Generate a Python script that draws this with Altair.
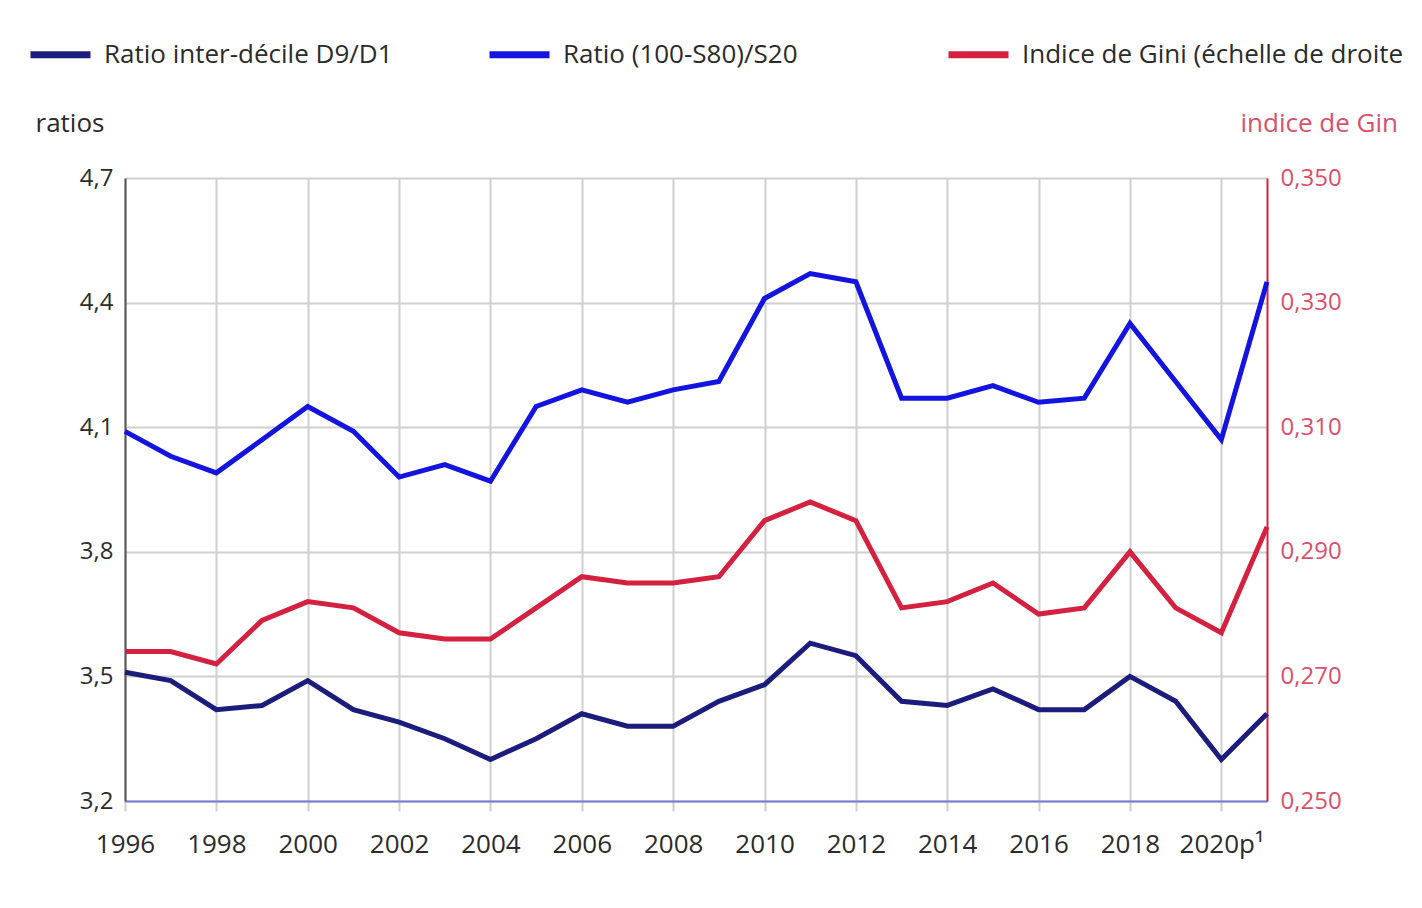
import altair as alt
import pandas as pd

years = list(range(1996, 2022))
series = [
    "Ratio inter-décile D9/D1",
    "Ratio (100-S80)/S20",
    "Indice de Gini (échelle de droite",
]
d9_d1 = [3.51, 3.49, 3.42, 3.43, 3.49, 3.42, 3.39, 3.35, 3.30, 3.35, 3.41, 3.38, 3.38,
         3.44, 3.48, 3.58, 3.55, 3.44, 3.43, 3.47, 3.42, 3.42, 3.50, 3.44, 3.30, 3.41]
s80_s20 = [4.09, 4.03, 3.99, 4.07, 4.15, 4.09, 3.98, 4.01, 3.97, 4.15, 4.19, 4.16, 4.19,
           4.21, 4.41, 4.47, 4.45, 4.17, 4.17, 4.20, 4.16, 4.17, 4.35, 4.21, 4.07, 4.45]
gini = [0.274, 0.274, 0.272, 0.279, 0.282, 0.281, 0.277, 0.276, 0.276, 0.281, 0.286, 0.285, 0.285,
        0.286, 0.295, 0.298, 0.295, 0.281, 0.282, 0.285, 0.280, 0.281, 0.290, 0.281, 0.277, 0.294]
ratio_ticks = [3.2, 3.5, 3.8, 4.1, 4.4, 4.7]
gini_ticks = [0.25, 0.27, 0.29, 0.31, 0.33, 0.35]
year_ticks = list(range(1996, 2021, 2))
colors = ["#1c1c7c", "#1414e0", "#d3213f"]
left_title = "ratios"
right_title = "indice de Gin"

rows = []
for name, vals in zip(series, [d9_d1, s80_s20, gini]):
    for yr, v in zip(years, vals):
        rows.append({"annee": yr, "serie": name, "valeur": v})
df = pd.DataFrame(rows)

FONT = "Open Sans"
TXT = "#2b2b2b"
GRID = "#cfcfcf"
RED_LABEL = "#d9506c"

color = alt.Color(
    "serie:N",
    scale=alt.Scale(domain=series, range=colors),
    sort=series,
    legend=alt.Legend(
        title=None,
        orient="none",
        legendX=-98,
        legendY=-157,
        direction="horizontal",
        columns=3,
        gridAlign="all",
        columnPadding=-14,
        symbolType="stroke",
        symbolSize=3600,
        symbolStrokeWidth=7,
        labelFontSize=26,
        labelFont=FONT,
        labelColor=TXT,
        labelOffset=10,
        labelLimit=0,
    ),
)

x = alt.X(
    "annee:Q",
    scale=alt.Scale(domain=[1996, 2021], nice=False, zero=False),
    axis=alt.Axis(
        values=year_ticks,
        labelExpr="datum.value == 2020 ? '2020p¹' : '' + datum.value",
        labelFlush=False,
        labelOverlap=False,
        title=None,
        grid=True,
        gridColor=GRID,
        gridWidth=2,
        tickSize=10,
        tickColor=GRID,
        tickWidth=2,
        domainColor="#7a7ad8",
        domainWidth=2,
        labelFontSize=26,
        labelFont=FONT,
        labelColor=TXT,
        labelPadding=20,
    ),
)

base = alt.Chart(df)

ratios = base.transform_filter(
    alt.FieldOneOfPredicate(field="serie", oneOf=series[:2])
).mark_line(strokeWidth=5).encode(
    x=x,
    y=alt.Y(
        "valeur:Q",
        scale=alt.Scale(domain=[3.2, 4.7], nice=False, zero=False),
        axis=alt.Axis(
            orient="left",
            values=ratio_ticks,
            labelExpr="replace(format(datum.value, '.1f'), '.', ',')",
            title=left_title,
            titleAngle=0,
            titleX=-90,
            titleY=-55,
            titleAlign="left",
            titleBaseline="middle",
            titleFontSize=26,
            titleFontWeight="normal",
            titleFont=FONT,
            titleColor=TXT,
            grid=True,
            gridColor=GRID,
            gridWidth=2,
            ticks=False,
            domainColor="#555555",
            domainWidth=2,
            labelPadding=12,
            labelFontSize=24,
            labelFont=FONT,
            labelColor=TXT,
        ),
    ),
    color=color,
)

gini_line = base.transform_filter(
    alt.FieldEqualPredicate(field="serie", equal=series[2])
).mark_line(strokeWidth=5).encode(
    x=x,
    y=alt.Y(
        "valeur:Q",
        scale=alt.Scale(domain=[0.25, 0.35], nice=False, zero=False),
        axis=alt.Axis(
            orient="right",
            values=gini_ticks,
            labelExpr="replace(format(datum.value, '.3f'), '.', ',')",
            title=right_title,
            titleAngle=0,
            titleX=-27,
            titleY=-55,
            titleAlign="left",
            titleBaseline="middle",
            titleFontSize=26,
            titleFontWeight="normal",
            titleFont=FONT,
            titleColor=RED_LABEL,
            grid=False,
            ticks=False,
            domainColor="#d3213f",
            domainWidth=2,
            labelPadding=13,
            labelFontSize=24,
            labelFont=FONT,
            labelColor=RED_LABEL,
        ),
    ),
    color=color,
)

chart = alt.layer(ratios, gini_line).resolve_scale(y="independent").properties(
    width=1142,
    height=623,
    autosize=alt.AutoSizeParams(type="none"),
    padding={"left": 117, "top": 170, "right": 147, "bottom": 88},
).configure_view(stroke=None).configure(font=FONT)

chart.save("out.html", embed_options={"renderer": "svg", "actions": False})
